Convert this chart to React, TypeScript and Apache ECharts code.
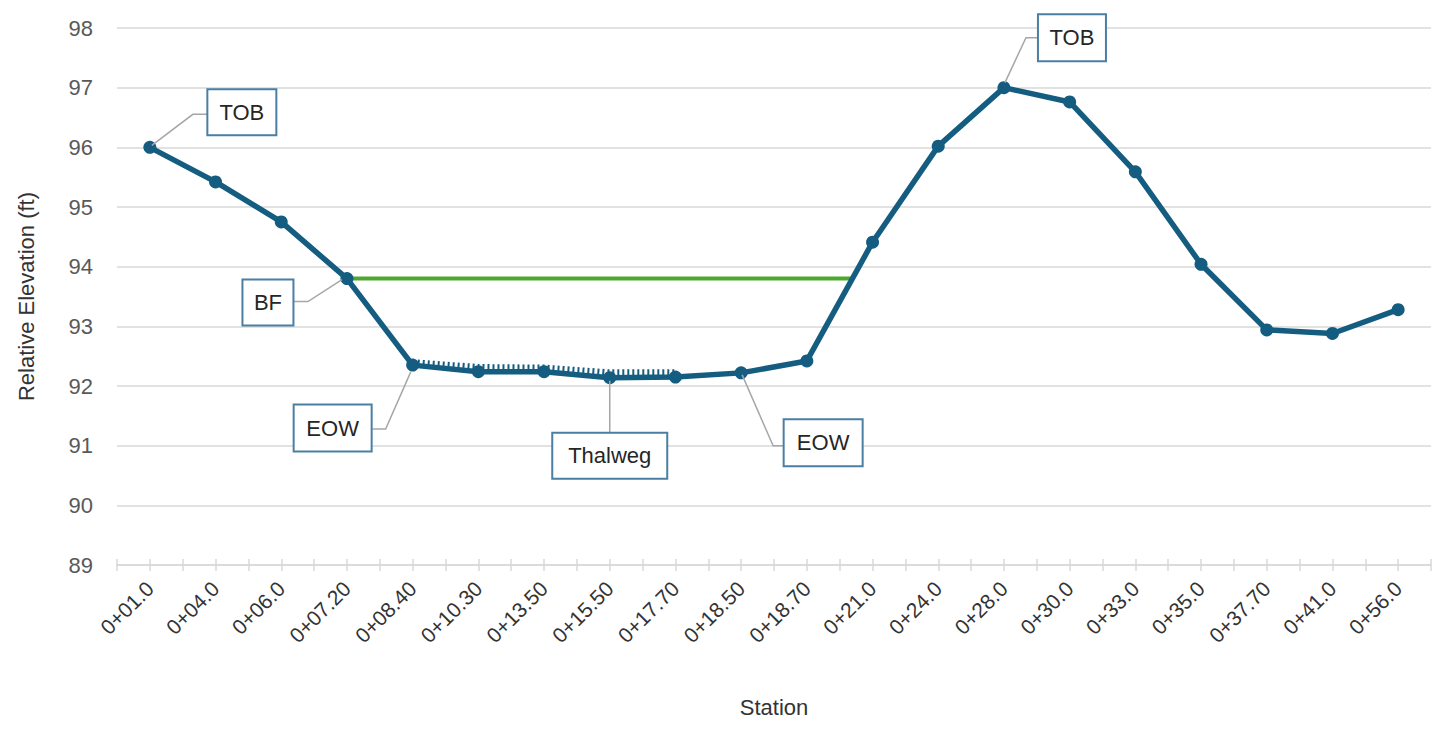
import React, { useEffect, useRef } from "react";
import * as echarts from "echarts";

const stations = [
  "0+01.0", "0+04.0", "0+06.0", "0+07.20", "0+08.40", "0+10.30", "0+13.50",
  "0+15.50", "0+17.70", "0+18.50", "0+18.70", "0+21.0", "0+24.0", "0+28.0",
  "0+30.0", "0+33.0", "0+35.0", "0+37.70", "0+41.0", "0+56.0",
];

const elevation = [
  96.0, 95.42, 94.75, 93.8, 92.35, 92.24, 92.24, 92.14, 92.15, 92.22, 92.42,
  94.41, 96.02, 97.0, 96.76, 95.59, 94.04, 92.94, 92.88, 93.28,
];

// water-surface hatch line (0+08.40 .. 0+17.70)
const waterSurface = [
  null, null, null, null, 92.39, 92.31, 92.3, 92.22, 92.22, null, null,
  null, null, null, null, null, null, null, null, null,
];

// bankfull line: from station index 3 to where it meets the right bank
const bankfullX = [3, 10.7];
const bankfullElev = 93.8;

const yMin = 89;
const yMax = 98;
const yStep = 1;

const annotations = [
  { idx: 0, text: "TOB", dx: 92, dy: -35, w: 69, h: 46, leader: [[2, -2], [43, -33], [58, -33]] },
  { idx: 3, text: "BF", dx: -79, dy: 24, w: 51, h: 46, leader: [[-5, 1], [-39, 23], [-54, 23]] },
  { idx: 4, text: "EOW", dx: -80, dy: 63, w: 78, h: 47, leader: [[-2, 7], [-27, 64], [-41, 64]] },
  { idx: 7, text: "Thalweg", dx: 0, dy: 78, w: 115, h: 46, leader: [[0, 3], [0, 55]] },
  { idx: 9, text: "EOW", dx: 82, dy: 70, w: 79, h: 47, leader: [[1, 2], [32, 73], [43, 73]] },
  { idx: 13, text: "TOB", dx: 68, dy: -50, w: 68, h: 47, leader: [[1, -5], [22, -50], [34, -50]] },
];

const MAIN = "#155d80";
const GREEN = "#4ea72e";
const GRID = "#d9d9d9";
const FONT = "'Liberation Sans', Arial, sans-serif";

export default function App() {
  const ref = useRef<HTMLDivElement>(null);

  useEffect(() => {
    if (!ref.current) return;
    const chart = echarts.init(ref.current, null, { renderer: "svg" });
    const option: any = {
      animation: false,
      backgroundColor: "#ffffff",
      grid: { left: 117, right: 7, top: 28, bottom: 164 },
      xAxis: [
        {
          type: "category",
          data: stations,
          boundaryGap: true,
          axisLine: { lineStyle: { color: GRID, width: 1.5 } },
          axisTick: { show: false },
          axisLabel: {
            rotate: 45,
            fontSize: 21,
            color: "#333333",
            fontFamily: FONT,
            margin: 20,
            interval: 0,
          },
          name: "Station",
          nameLocation: "middle",
          nameGap: 131,
          nameTextStyle: { fontSize: 22, color: "#333333", fontFamily: FONT },
        },
        {
          type: "value",
          min: -0.5,
          max: 19.5,
          interval: 0.5,
          position: "bottom",
          offset: -6,
          axisLine: { show: false },
          axisTick: { show: true, length: 12, lineStyle: { color: GRID, width: 1.5 } },
          axisLabel: { show: false },
          splitLine: { show: false },
        },
      ],
      yAxis: {
        type: "value",
        min: yMin,
        max: yMax,
        interval: yStep,
        axisLine: { show: false },
        axisTick: { show: false },
        splitLine: { lineStyle: { color: GRID, width: 1.5 } },
        axisLabel: { fontSize: 22, color: "#595959", fontFamily: FONT, margin: 24 },
        name: "Relative Elevation (ft)",
        nameLocation: "middle",
        nameGap: 80,
        nameTextStyle: { fontSize: 22, color: "#333333", fontFamily: FONT },
      },
      series: [
        {
          name: "Bankfull",
          type: "line",
          xAxisIndex: 1,
          data: bankfullX.map((x) => [x, bankfullElev]),
          symbol: "none",
          lineStyle: { color: GREEN, width: 4 },
          z: 2,
        },
        {
          name: "Water surface",
          type: "line",
          xAxisIndex: 0,
          data: waterSurface,
          symbol: "none",
          lineStyle: { color: MAIN, width: 7, type: [2, 3] },
          z: 2,
        },
        {
          name: "Elevation",
          type: "line",
          xAxisIndex: 0,
          data: elevation,
          symbol: "circle",
          symbolSize: 13,
          itemStyle: { color: MAIN },
          lineStyle: { color: MAIN, width: 5.5 },
          z: 3,
        },
      ],
    };
    chart.setOption(option);

    const graphics: any[] = [];
    annotations.forEach((a) => {
      const p = chart.convertToPixel({ seriesIndex: 2 }, [a.idx, elevation[a.idx]]) as number[];
      const [px, py] = p;
      graphics.push({
        type: "polyline",
        shape: { points: a.leader.map(([lx, ly]) => [px + lx, py + ly]) },
        style: { stroke: "#a6a6a6", lineWidth: 1.5, fill: null },
        z: 50,
      });
      const cx = px + a.dx;
      const cy = py + a.dy;
      graphics.push({
        type: "rect",
        shape: { x: cx - a.w / 2, y: cy - a.h / 2, width: a.w, height: a.h },
        style: { fill: "#ffffff", stroke: "#4a7fa3", lineWidth: 2 },
        z: 51,
      });
      graphics.push({
        type: "text",
        x: cx,
        y: cy,
        style: {
          text: a.text,
          fill: "#262626",
          fontSize: 22,
          fontFamily: FONT,
          align: "center",
          verticalAlign: "middle",
        },
        z: 52,
      });
    });
    chart.setOption({ graphic: graphics });

    return () => chart.dispose();
  }, []);

  return (
    <div
      ref={ref}
      style={{ position: "absolute", left: 0, top: 0, width: 1438, height: 729 }}
    />
  );
}
